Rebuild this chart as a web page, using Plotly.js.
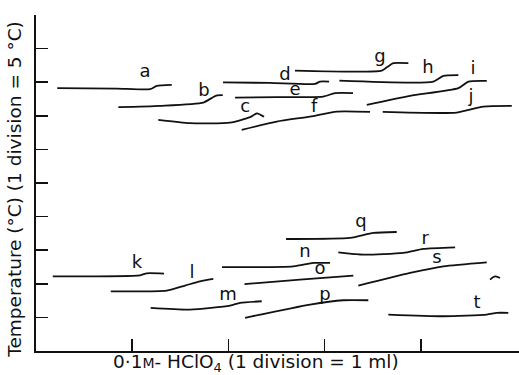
<!DOCTYPE html>
<html><head><meta charset="utf-8">
<script src="https://cdn.plot.ly/plotly-3.0.1.min.js"></script>
<style>html,body{margin:0;padding:0;background:#fff}#chart{width:519px;height:375px}</style>
</head><body><div id="chart"></div>
<script>
// x: volume of 0.1 M HClO4 (divisions, 1 division = 1 ml); y: temperature (divisions, 1 division = 5 °C)
const curveNames = ["a","b","c","d","e","f","g","h","i","j","k","l","m","n","o","p","q","r","s","t"];
const curveX = {
  a:[0.221,0.839,1.185,1.255,1.411],
  b:[0.856,1.289,1.739,1.840,1.882,1.941],
  c:[1.271,1.601,2.017,2.225,2.297,2.370],
  d:[1.944,2.432,2.900,2.952,3.046],
  e:[2.069,2.502,2.983,3.108,3.295],
  f:[2.138,2.502,2.848,3.126,3.472],
  g:[2.692,3.594,3.650,3.714,3.870],
  h:[3.153,4.130,4.234,4.390],
  i:[3.438,3.888,4.390,4.494,4.685],
  j:[3.604,4.373,4.650,4.945],
  k:[0.174,1.081,1.151,1.331],
  l:[0.777,1.359,1.549,1.705,1.843],
  m:[1.192,1.601,2.017,2.121,2.346],
  n:[1.933,2.675,2.883,3.056],
  o:[2.167,2.744,3.298],
  p:[2.173,2.848,3.194,3.454],
  q:[2.599,3.264,3.506,3.749],
  r:[3.142,3.402,3.818,4.026,4.356],
  s:[3.350,3.888,4.234,4.685],
  t:[3.662,4.234,4.685,4.789,4.909]
};
const curveY = {
  a:[7.822,7.810,7.792,7.890,7.920],
  b:[7.257,7.296,7.394,7.554,7.608,7.614],
  c:[6.880,6.782,6.799,6.960,7.073,6.969],
  d:[7.994,7.979,7.949,8.018,8.018],
  e:[7.542,7.554,7.572,7.673,7.673],
  f:[6.582,6.829,6.978,7.126,7.117],
  g:[8.345,8.345,8.450,8.565,8.565],
  h:[8.048,8.018,8.187,8.208],
  i:[7.325,7.593,7.822,8.018,8.039],
  j:[7.117,7.097,7.275,7.296],
  k:[2.223,2.253,2.312,2.303],
  l:[1.777,1.798,1.947,2.074,2.146],
  m:[1.284,1.233,1.352,1.432,1.480],
  n:[2.496,2.520,2.621,2.621],
  o:[1.991,2.125,2.244],
  p:[0.987,1.382,1.510,1.510],
  q:[3.334,3.364,3.513,3.542],
  r:[2.936,2.868,2.918,3.037,3.085],
  s:[1.947,2.324,2.520,2.639],
  t:[1.085,1.034,1.085,1.135,1.135]
};
// label anchor positions (data units)
const labelX = [1.133,1.746,2.173,2.588,2.692,2.890,3.576,4.075,4.543,4.522,1.050,1.622,1.996,2.796,2.952,3.004,3.378,4.044,4.168,4.584];
const labelY = [8.276,7.712,7.236,8.187,7.741,7.236,8.722,8.395,8.365,7.533,2.600,2.303,1.649,2.927,2.422,1.649,3.819,3.314,2.749,1.412];
// small unlabeled hook mark at right
const hookX = [4.719,4.771,4.823];
const hookY = [2.125,2.223,2.175];
const xTicks = [1,2,3,4];
const yTicks = [0,1,2,3,4,5,6,7,8,9,10];
const xTitle = "0·1<span style='font-size:14px'>M</span>- HClO<sub>4</sub> (1 division = 1 ml)";
const yTitle = "Temperature (°C) (1 division = 5 °C)";

const traces = curveNames.map(n => ({
  x: curveX[n], y: curveY[n], name: n, type: "scatter", mode: "lines",
  line: {color: "#111", width: 1.8, shape: "spline", smoothing: 0.6},
  hoverinfo: "skip", showlegend: false
}));
traces.push({x: hookX, y: hookY, type: "scatter", mode: "lines",
  line: {color: "#111", width: 1.8, shape: "spline"}, showlegend: false, hoverinfo: "skip"});
traces.push({x: labelX, y: labelY, text: curveNames, type: "scatter", mode: "text",
  textposition: "middle center", textfont: {family: "DejaVu Sans", size: 18, color: "#111"},
  showlegend: false, hoverinfo: "skip"});

const layout = {
  width: 519, height: 375,
  margin: {l: 36, r: 0, t: 15, b: 24},
  paper_bgcolor: "#fff", plot_bgcolor: "#fff",
  font: {family: "DejaVu Sans", color: "#111"},
  xaxis: {range: [0, 5.02], showgrid: false, zeroline: false, showline: true, linecolor: "#111", linewidth: 2,
    tickmode: "array", tickvals: xTicks, ticks: "inside", ticklen: 12, tickwidth: 1.6, tickcolor: "#111",
    showticklabels: false},
  yaxis: {range: [0, 10], showgrid: false, zeroline: false, showline: true, linecolor: "#111", linewidth: 2,
    tickmode: "array", tickvals: yTicks, ticks: "inside", ticklen: 12, tickwidth: 1.6, tickcolor: "#111",
    showticklabels: false},
  annotations: [
    {text: xTitle, xref: "paper", yref: "paper", x: 0.4555, y: -0.037, xanchor: "center", yanchor: "middle",
     showarrow: false, font: {size: 18.5, color: "#111"}},
    {text: yTitle, xref: "paper", yref: "paper", x: -0.0435, y: 0.483, xanchor: "center", yanchor: "middle",
     textangle: -90, showarrow: false, font: {size: 18.5, color: "#111"}}
  ]
};
Plotly.newPlot("chart", traces, layout, {displayModeBar: false, staticPlot: true});
</script></body></html>
